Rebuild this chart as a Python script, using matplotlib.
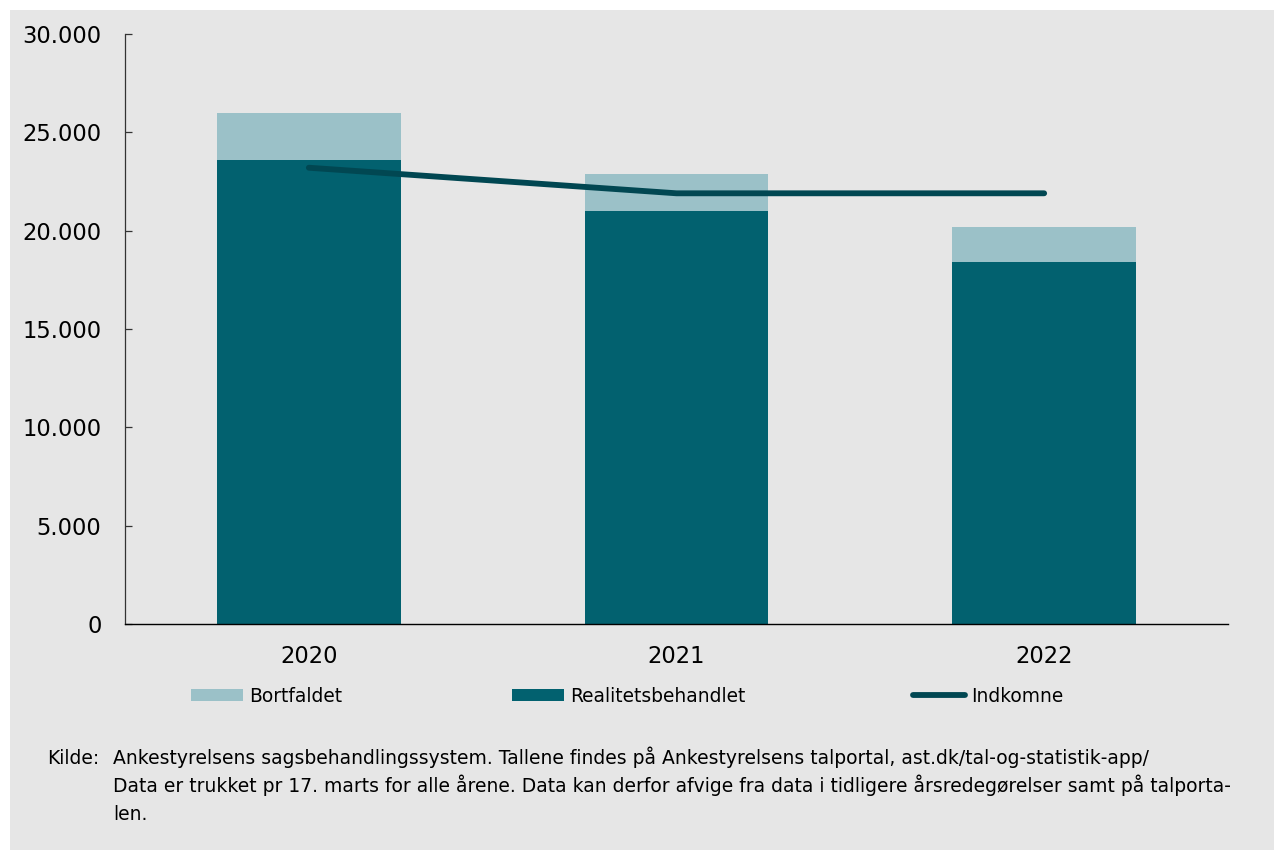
import matplotlib.pyplot as plt
from matplotlib.patches import Patch, Rectangle
from matplotlib.lines import Line2D
from matplotlib.ticker import FuncFormatter

years = ['2020', '2021', '2022']
realitetsbehandlet = [23600, 21000, 18400]
bortfaldet = [2400, 1900, 1800]
indkomne = [23200, 21900, 21900]

dark = '#02616f'
light = '#9bc1c8'
line_col = '#014752'
bg = '#e6e6e6'

W, H = 1284, 852
fig = plt.figure(figsize=(W / 100, H / 100), dpi=100)
fig.patch.set_facecolor('white')
# grey panel behind everything
fig.patches.append(Rectangle((10 / W, 2 / H), 1264 / W, 840 / H,
                             transform=fig.transFigure, facecolor=bg,
                             edgecolor='none', zorder=-10))

ax = fig.add_axes([125 / W, 228 / H, 1103 / W, 590 / H])
ax.set_facecolor(bg)

x = range(len(years))
ax.bar(x, realitetsbehandlet, width=0.5, color=dark, zorder=2)
ax.bar(x, bortfaldet, width=0.5, bottom=realitetsbehandlet, color=light, zorder=2)
ax.plot(x, indkomne, color=line_col, lw=4.2, solid_capstyle='round', zorder=3)

ax.set_xlim(-0.5, 2.5)
ax.set_ylim(0, 30000)
ax.set_yticks(range(0, 30001, 5000))
ax.yaxis.set_major_formatter(FuncFormatter(lambda v, p: f'{int(v):,}'.replace(',', '.')))
ax.set_xticks(list(x))
ax.set_xticklabels(years)

for s in ['top', 'right']:
    ax.spines[s].set_visible(False)
ax.spines['left'].set_color('#333333')
ax.spines['left'].set_linewidth(0.9)
ax.spines['bottom'].set_color('black')
ax.spines['bottom'].set_linewidth(1.0)

ax.tick_params(axis='y', direction='in', length=5, width=0.9, color='#333333',
               labelsize=16.3, pad=17)
ax.tick_params(axis='x', length=0, labelsize=16.3, pad=15)

# legend entries placed one by one like the original
leg_font = 13.4
entries = [
    (Patch(facecolor=light, edgecolor='none'), 'Bortfaldet', 191),
    (Patch(facecolor=dark, edgecolor='none'), 'Realitetsbehandlet', 512),
    (Line2D([], [], color=line_col, lw=4.2, solid_capstyle='round'), 'Indkomne', 913),
]
for handle, label, px in entries:
    fig.legend([handle], [label], loc='center left',
               bbox_to_anchor=(px / W, 1 - 696 / H),
               frameon=False, fontsize=leg_font, handlelength=2.8,
               handleheight=0.65, handletextpad=0.3, borderpad=0,
               borderaxespad=0)

note_font = 13.5
fig.text(47 / W, 1 - 764 / H, 'Kilde:', fontsize=note_font, va='baseline')
note_lines = [
    'Ankestyrelsens sagsbehandlingssystem. Tallene findes på Ankestyrelsens talportal, ast.dk/tal-og-statistik-app/',
    'Data er trukket pr 17. marts for alle årene. Data kan derfor afvige fra data i tidligere årsredegørelser samt på talporta-',
    'len.',
]
for i, line in enumerate(note_lines):
    fig.text(113 / W, 1 - (764 + 28 * i) / H, line, fontsize=note_font, va='baseline')

fig.savefig('out.png', dpi=100, facecolor=fig.get_facecolor())
